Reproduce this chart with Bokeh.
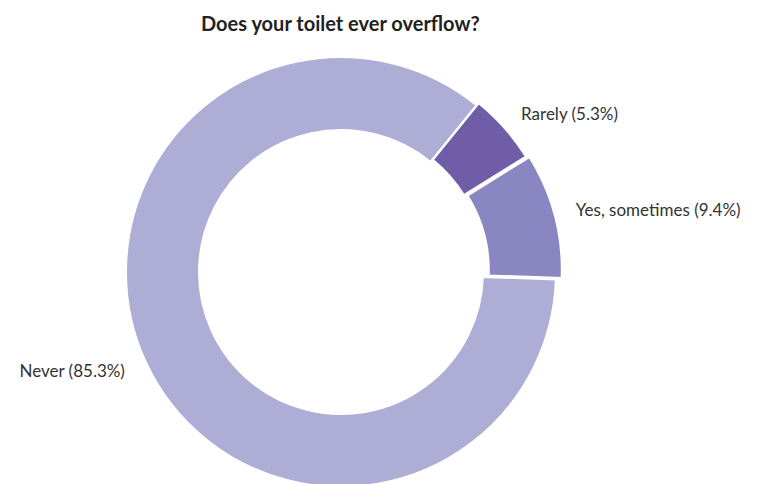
import numpy as np
from bokeh.plotting import figure
from bokeh.models import Range1d, ColumnDataSource
from bokeh.core.properties import value
from bokeh.embed import file_html
from bokeh.resources import INLINE

# ---- data ----
categories = ["Yes, sometimes", "Rarely", "Never"]
percents = [9.4, 5.3, 85.3]
colors = ["#8A86C1", "#6F5DA8", "#ADADD5"]
title_text = "Does your toilet ever overflow?"

# ---- layout (pixel-like data units, y measured up from page bottom) ----
W, H = 760, 484
cx, cy = 340.5, 484 - 271.5
r_out, r_in = 215, 142
start_deg = -2.0
pulls = [6, 3, 0]

p = figure(width=W, height=H, output_backend="svg", toolbar_location=None,
           x_range=Range1d(0, W), y_range=Range1d(484 - H, 484),
           x_axis_location=None, y_axis_location=None, min_border=0)
p.grid.visible = False
p.outline_line_color = None
p.background_fill_color = "white"

fr = np.array(percents) / sum(percents)
ends = np.radians(start_deg) + 2 * np.pi * np.cumsum(fr)
starts = ends - 2 * np.pi * fr
mids = (starts + ends) / 2
xs = cx + np.array(pulls) * np.cos(mids)
ys = cy + np.array(pulls) * np.sin(mids)

src = ColumnDataSource(dict(x=xs, y=ys, s=starts, e=ends, c=colors))
p.annular_wedge(x="x", y="y", inner_radius=r_in, outer_radius=r_out,
                start_angle="s", end_angle="e", fill_color="c",
                line_color="white", line_width=2, source=src)

labels = [f"{c} ({v}%)" for c, v in zip(categories, percents)]
r_lab = r_out + 22
lx = cx + (r_lab + np.array(pulls)) * np.cos(mids)
ly = cy + (r_lab + np.array(pulls)) * np.sin(mids)
align = ["left" if np.cos(m) >= 0 else "right" for m in mids]
lsrc = ColumnDataSource(dict(x=lx, y=ly, t=labels, a=align))
p.text(x="x", y="y", text="t", text_align="a", text_baseline="middle",
       text_font=value("Lato"), text_font_size="17px", text_color="#333333",
       source=lsrc)

p.text(x=[cx], y=[484 - 22], text=[title_text], text_align="center",
       text_baseline="middle", text_font=value("Lato"), text_font_size="20px",
       text_font_style="bold", text_color="#222222")

open("out.html", "w").write(file_html(p, INLINE))
